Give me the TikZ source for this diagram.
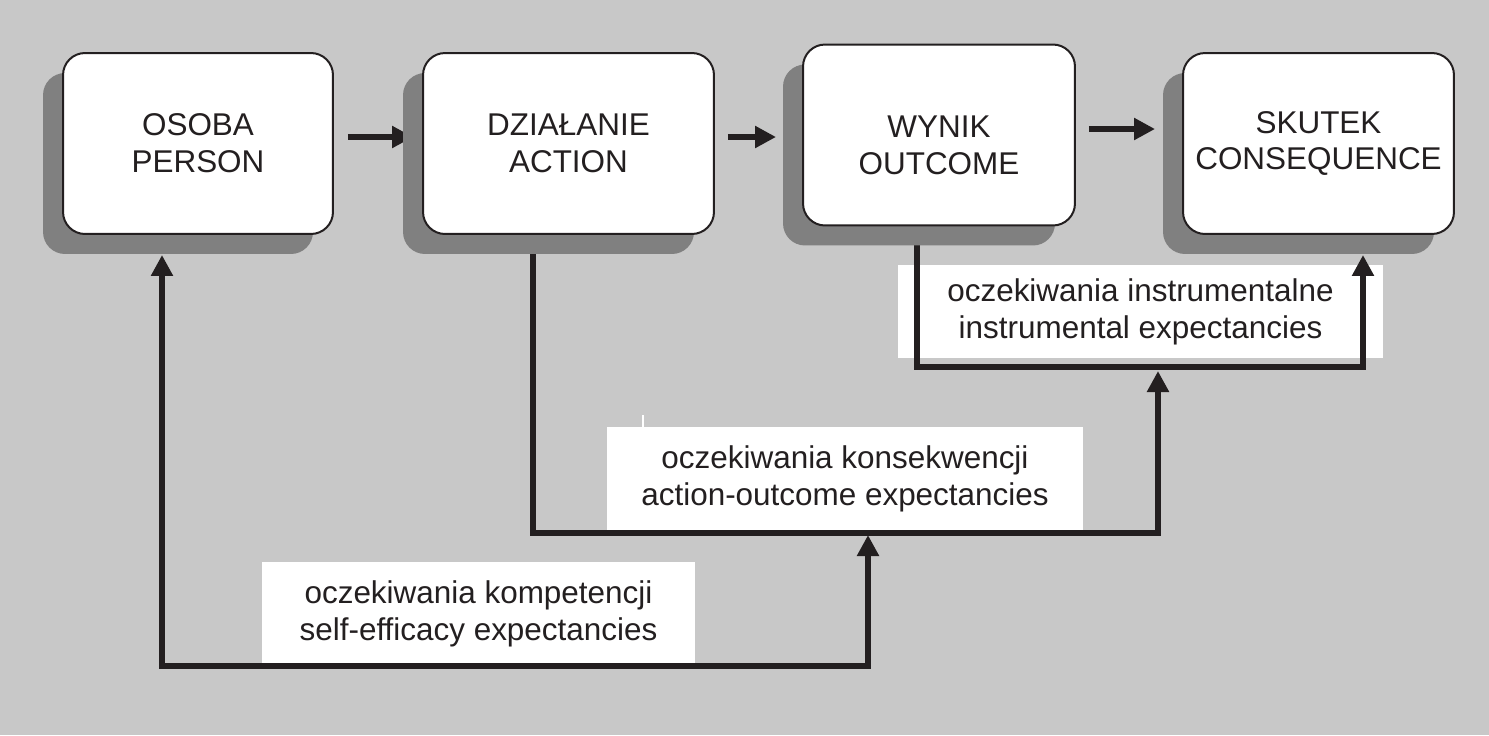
\documentclass[tikz,border=0pt]{standalone}
\usepackage{fontspec}
\setmainfont{Liberation Sans}
\usepackage{tikz}
\usetikzlibrary{arrows.meta, calc, shadows}

\definecolor{bggray}{RGB}{200,200,200}
\definecolor{shadowgray}{RGB}{128,128,128}
\definecolor{ink}{RGB}{35,31,32}

\pgfdeclarelayer{background}
\pgfdeclarelayer{foreground}
\pgfsetlayers{background,main,foreground}

\tikzset{
  boxtext/.style={align=center, text=ink, inner sep=0pt, font=\fontsize{17.9}{21}\selectfont},
  stepbox/.style={boxtext, draw=ink, line width=0.04cm, fill=white, rounded corners=0.44cm,
    minimum height=3.62cm,
    general shadow={fill=shadowgray, shadow xshift=-0.4cm, shadow yshift=-0.4cm}},
  expbox/.style={boxtext, fill=white, minimum height=2.06cm},
  link/.style={draw=ink, line width=0.13cm},
  bigtri/.tip={Triangle[length=0.42cm, width=0.42cm]}
}

\begin{document}
\begin{tikzpicture}[x=0.02cm, y=-0.02cm]
        \begin{pgfonlayer}{background}
            \fill[bggray] (0,0) rectangle (1489,735);
        \end{pgfonlayer}
        \useasboundingbox (0,0) rectangle (1489,735);

        \begin{pgfonlayer}{foreground}
            \node[stepbox, minimum width=5.4cm] (osoba) at (198,143.5) {OSOBA\\PERSON};
            \node[stepbox, minimum width=5.82cm] (dzialanie) at (568.5,143.5) {DZIAŁANIE\\ACTION};
            \node[stepbox, minimum width=5.44cm] (wynik) at (939,135) {};
            \node[boxtext] (wynikText) at (939,145) {WYNIK\\OUTCOME};
            \node[stepbox, minimum width=5.42cm] (skutek) at (1318.5,143.5) {SKUTEK\\CONSEQUENCE};
        \end{pgfonlayer}

        \node[expbox, minimum width=9.7cm, minimum height=1.86cm] (instr) at (1140.5,311.5)
            {oczekiwania instrumentalne\\instrumental expectancies};
        \node[expbox, minimum width=9.52cm] (konsek) at (845,478.5)
            {oczekiwania konsekwencji\\action-outcome expectancies};
        \node[expbox, minimum width=8.66cm] (kompet) at (478.5,613.5)
            {oczekiwania kompetencji\\self-efficacy expectancies};
        \draw[white, line width=0.03cm] ([xshift=-4.04cm]konsek.north) -- ++(0,-12);

        \coordinate (row1) at (0,137);
        \coordinate (row2) at (0,129);
        \coordinate (kompetL) at (162,666);
        \coordinate (kompetR) at (868,666);
        \coordinate (konsekL) at (533,533);
        \coordinate (konsekR) at (1158,533);
        \coordinate (instrL) at (917,367);
        \coordinate (instrR) at (1363,367);

        \path (osoba.east |- row1) edge[link, -bigtri, shorten <=0.28cm, shorten >=0.18cm] (dzialanie.west |- row1)
              (dzialanie.east |- row1) edge[link, -bigtri, shorten <=0.26cm, shorten >=0.52cm] (wynik.west |- row1)
              (wynik.east |- row2) edge[link, -bigtri, shorten <=0.26cm, shorten >=0.54cm] (skutek.west |- row2);

        \draw[link, bigtri-bigtri] ($(osoba.south -| kompetL)+(0,20)$) -- (kompetL) -- (kompetR)
            -- ($(kompetR |- konsekR)+(0,2)$);
        \draw[link, -bigtri] (dzialanie.south -| konsekL) -- (konsekL) -- (konsekR)
            -- ($(konsekR |- instrR)+(0,4)$);
        \draw[link, -bigtri] (wynik.south -| instrL) -- (instrL) -- (instrR)
            -- ($(skutek.south -| instrR)+(0,20)$);
    \end{tikzpicture}
\end{document}
